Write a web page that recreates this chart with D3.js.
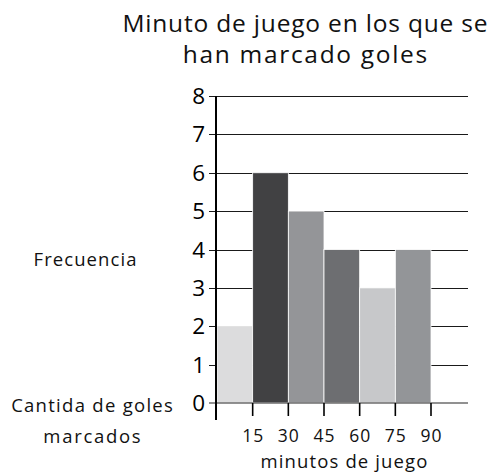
<!DOCTYPE html>
<html><head><meta charset="utf-8">
<script src="https://cdn.jsdelivr.net/npm/d3@7"></script>
<style>body{margin:0;background:#fff}svg{display:block}</style>
</head><body>
<svg id="c" width="492" height="474"></svg>
<script>
const binStarts = [0, 15, 30, 45, 60, 75];
const binEnds = [15, 30, 45, 60, 75, 90];
const goals = [2, 6, 5, 4, 3, 4];
const barColors = ["#dcdcdd", "#414143", "#949598", "#6d6e71", "#c7c8ca", "#939598"];
const xTickValues = [15, 30, 45, 60, 75, 90];
const yTickValues = [0, 1, 2, 3, 4, 5, 6, 7, 8];
const titleLines = ["Minuto de juego en los que se", "han marcado goles"];

const svg = d3.select("#c");
const x = d3.scaleLinear().domain([0, 90]).range([217, 431]);
const y = d3.scaleLinear().domain([0, 8]).range([403, 96]);
const textFont = "'Open Sans', 'Noto Sans', sans-serif";
const numFont = "'Open Sans', 'Noto Sans', sans-serif";

function spread(node, target) {
  const w = node.getComputedTextLength();
  const n = node.textContent.length;
  if (w > 0 && n > 1) {
    const ls = (target - w) / n;
    node.setAttribute("letter-spacing", ls.toFixed(2));
    const x0 = parseFloat(node.getAttribute("x"));
    node.setAttribute("x", (x0 + ls / 2).toFixed(2));
  }
}

svg.append("g").selectAll("line").data(yTickValues.filter(d => d > 0)).join("line")
  .attr("x1", 209).attr("x2", 468)
  .attr("y1", d => Math.round(y(d)) + 0.5).attr("y2", d => Math.round(y(d)) + 0.5)
  .attr("stroke", "#1a1a1a").attr("stroke-width", 1.2);

svg.append("g").selectAll("rect").data(goals).join("rect")
  .attr("x", (d, i) => x(binStarts[i]))
  .attr("width", (d, i) => x(binEnds[i]) - x(binStarts[i]))
  .attr("y", d => y(d))
  .attr("height", d => y(0) - y(d))
  .attr("fill", (d, i) => barColors[i])
  .attr("stroke", "#fff").attr("stroke-width", 0.8);

svg.append("line").attr("x1", 209).attr("x2", 468)
  .attr("y1", y(0)).attr("y2", y(0))
  .attr("stroke", "#6d6d6d").attr("stroke-width", 1.6);

svg.append("line").attr("x1", 216).attr("x2", 216)
  .attr("y1", y(8)).attr("y2", 420)
  .attr("stroke", "#000").attr("stroke-width", 2);

svg.append("g").selectAll("line").data(xTickValues).join("line")
  .attr("x1", d => x(d)).attr("x2", d => x(d))
  .attr("y1", y(0)).attr("y2", 416)
  .attr("stroke", "#000").attr("stroke-width", 1.6);

svg.append("g").selectAll("text").data(xTickValues).join("text")
  .attr("x", d => x(d) + 0.5).attr("y", 442)
  .attr("text-anchor", "middle")
  .attr("font-family", numFont).attr("font-size", 17.5).attr("letter-spacing", 1).attr("fill", "#111")
  .text(d => d);

svg.append("g").selectAll("text").data(yTickValues).join("text")
  .attr("x", 205).attr("y", d => y(d) + 8)
  .attr("text-anchor", "end")
  .attr("font-family", numFont).attr("font-size", 22.5).attr("fill", "#000")
  .text(d => d);

const titleWidths = [366, 246];
svg.append("g").selectAll("text").data(titleLines).join("text")
  .attr("x", 305).attr("y", (d, i) => 32 + i * 31)
  .attr("text-anchor", "middle")
  .attr("font-family", textFont).attr("font-size", 24.5).attr("fill", "#111")
  .text(d => d)
  .each(function (d, i) { spread(this, titleWidths[i]); });

const labels = [
  {t: "Frecuencia", x: 85, y: 266, w: 104},
  {t: "Cantida de goles", x: 92, y: 412, w: 163},
  {t: "marcados", x: 92, y: 443, w: 99},
  {t: "minutos de juego", x: 344, y: 468, w: 168}
];
labels.forEach(l => {
  const s = svg.append("text").attr("x", l.x).attr("y", l.y).attr("text-anchor", "middle")
    .attr("font-family", textFont).attr("font-size", 18.5).attr("fill", "#111").text(l.t);
  spread(s.node(), l.w);
});
</script>
</body></html>
